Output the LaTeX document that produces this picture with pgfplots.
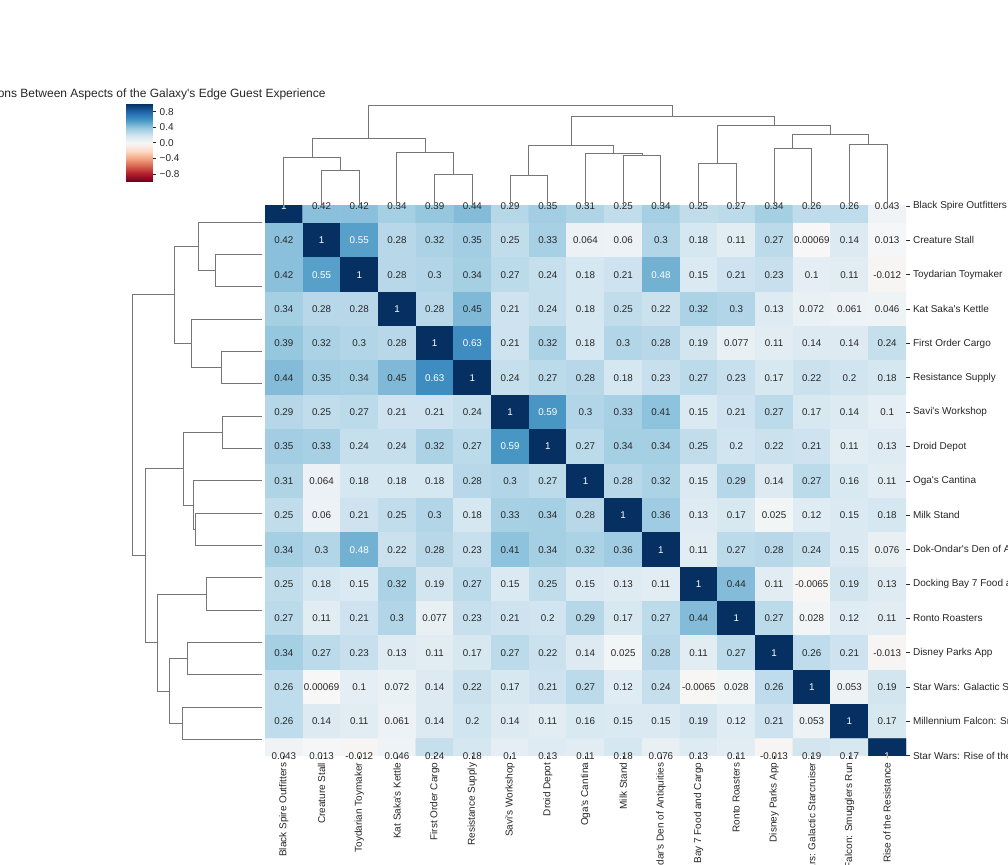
\documentclass[border=0pt]{standalone}
\usepackage{fontspec}
\setmainfont{Liberation Sans}[Ligatures=TeXOff]
\usepackage{pgfplots}
\usepackage{pgfplotstable}
\pgfplotsset{compat=1.18}

\definecolor{txt}{RGB}{38,38,38}
\definecolor{dendro}{RGB}{118,118,118}
\pgfplotsset{colormap={rdbu}{rgb255=(103,0,31) rgb255=(178,24,43) rgb255=(214,96,77)
  rgb255=(244,165,130) rgb255=(253,219,199) rgb255=(247,247,247) rgb255=(209,229,240)
  rgb255=(146,197,222) rgb255=(67,147,195) rgb255=(33,102,172) rgb255=(5,48,97)}}

% correlation matrix, long format: column, row, value
\pgfplotstableread[row sep=\\]{
c r v\\
0 0 1\\ 1 0 0.42\\ 2 0 0.42\\ 3 0 0.34\\ 4 0 0.39\\ 5 0 0.44\\ 6 0 0.29\\ 7 0 0.35\\ 8 0 0.31\\ 9 0 0.25\\ 10 0 0.34\\ 11 0 0.25\\ 12 0 0.27\\ 13 0 0.34\\ 14 0 0.26\\ 15 0 0.26\\ 16 0 0.043\\
0 1 0.42\\ 1 1 1\\ 2 1 0.55\\ 3 1 0.28\\ 4 1 0.32\\ 5 1 0.35\\ 6 1 0.25\\ 7 1 0.33\\ 8 1 0.064\\ 9 1 0.06\\ 10 1 0.3\\ 11 1 0.18\\ 12 1 0.11\\ 13 1 0.27\\ 14 1 0.00069\\ 15 1 0.14\\ 16 1 0.013\\
0 2 0.42\\ 1 2 0.55\\ 2 2 1\\ 3 2 0.28\\ 4 2 0.3\\ 5 2 0.34\\ 6 2 0.27\\ 7 2 0.24\\ 8 2 0.18\\ 9 2 0.21\\ 10 2 0.48\\ 11 2 0.15\\ 12 2 0.21\\ 13 2 0.23\\ 14 2 0.1\\ 15 2 0.11\\ 16 2 -0.012\\
0 3 0.34\\ 1 3 0.28\\ 2 3 0.28\\ 3 3 1\\ 4 3 0.28\\ 5 3 0.45\\ 6 3 0.21\\ 7 3 0.24\\ 8 3 0.18\\ 9 3 0.25\\ 10 3 0.22\\ 11 3 0.32\\ 12 3 0.3\\ 13 3 0.13\\ 14 3 0.072\\ 15 3 0.061\\ 16 3 0.046\\
0 4 0.39\\ 1 4 0.32\\ 2 4 0.3\\ 3 4 0.28\\ 4 4 1\\ 5 4 0.63\\ 6 4 0.21\\ 7 4 0.32\\ 8 4 0.18\\ 9 4 0.3\\ 10 4 0.28\\ 11 4 0.19\\ 12 4 0.077\\ 13 4 0.11\\ 14 4 0.14\\ 15 4 0.14\\ 16 4 0.24\\
0 5 0.44\\ 1 5 0.35\\ 2 5 0.34\\ 3 5 0.45\\ 4 5 0.63\\ 5 5 1\\ 6 5 0.24\\ 7 5 0.27\\ 8 5 0.28\\ 9 5 0.18\\ 10 5 0.23\\ 11 5 0.27\\ 12 5 0.23\\ 13 5 0.17\\ 14 5 0.22\\ 15 5 0.2\\ 16 5 0.18\\
0 6 0.29\\ 1 6 0.25\\ 2 6 0.27\\ 3 6 0.21\\ 4 6 0.21\\ 5 6 0.24\\ 6 6 1\\ 7 6 0.59\\ 8 6 0.3\\ 9 6 0.33\\ 10 6 0.41\\ 11 6 0.15\\ 12 6 0.21\\ 13 6 0.27\\ 14 6 0.17\\ 15 6 0.14\\ 16 6 0.1\\
0 7 0.35\\ 1 7 0.33\\ 2 7 0.24\\ 3 7 0.24\\ 4 7 0.32\\ 5 7 0.27\\ 6 7 0.59\\ 7 7 1\\ 8 7 0.27\\ 9 7 0.34\\ 10 7 0.34\\ 11 7 0.25\\ 12 7 0.2\\ 13 7 0.22\\ 14 7 0.21\\ 15 7 0.11\\ 16 7 0.13\\
0 8 0.31\\ 1 8 0.064\\ 2 8 0.18\\ 3 8 0.18\\ 4 8 0.18\\ 5 8 0.28\\ 6 8 0.3\\ 7 8 0.27\\ 8 8 1\\ 9 8 0.28\\ 10 8 0.32\\ 11 8 0.15\\ 12 8 0.29\\ 13 8 0.14\\ 14 8 0.27\\ 15 8 0.16\\ 16 8 0.11\\
0 9 0.25\\ 1 9 0.06\\ 2 9 0.21\\ 3 9 0.25\\ 4 9 0.3\\ 5 9 0.18\\ 6 9 0.33\\ 7 9 0.34\\ 8 9 0.28\\ 9 9 1\\ 10 9 0.36\\ 11 9 0.13\\ 12 9 0.17\\ 13 9 0.025\\ 14 9 0.12\\ 15 9 0.15\\ 16 9 0.18\\
0 10 0.34\\ 1 10 0.3\\ 2 10 0.48\\ 3 10 0.22\\ 4 10 0.28\\ 5 10 0.23\\ 6 10 0.41\\ 7 10 0.34\\ 8 10 0.32\\ 9 10 0.36\\ 10 10 1\\ 11 10 0.11\\ 12 10 0.27\\ 13 10 0.28\\ 14 10 0.24\\ 15 10 0.15\\ 16 10 0.076\\
0 11 0.25\\ 1 11 0.18\\ 2 11 0.15\\ 3 11 0.32\\ 4 11 0.19\\ 5 11 0.27\\ 6 11 0.15\\ 7 11 0.25\\ 8 11 0.15\\ 9 11 0.13\\ 10 11 0.11\\ 11 11 1\\ 12 11 0.44\\ 13 11 0.11\\ 14 11 -0.0065\\ 15 11 0.19\\ 16 11 0.13\\
0 12 0.27\\ 1 12 0.11\\ 2 12 0.21\\ 3 12 0.3\\ 4 12 0.077\\ 5 12 0.23\\ 6 12 0.21\\ 7 12 0.2\\ 8 12 0.29\\ 9 12 0.17\\ 10 12 0.27\\ 11 12 0.44\\ 12 12 1\\ 13 12 0.27\\ 14 12 0.028\\ 15 12 0.12\\ 16 12 0.11\\
0 13 0.34\\ 1 13 0.27\\ 2 13 0.23\\ 3 13 0.13\\ 4 13 0.11\\ 5 13 0.17\\ 6 13 0.27\\ 7 13 0.22\\ 8 13 0.14\\ 9 13 0.025\\ 10 13 0.28\\ 11 13 0.11\\ 12 13 0.27\\ 13 13 1\\ 14 13 0.26\\ 15 13 0.21\\ 16 13 -0.013\\
0 14 0.26\\ 1 14 0.00069\\ 2 14 0.1\\ 3 14 0.072\\ 4 14 0.14\\ 5 14 0.22\\ 6 14 0.17\\ 7 14 0.21\\ 8 14 0.27\\ 9 14 0.12\\ 10 14 0.24\\ 11 14 -0.0065\\ 12 14 0.028\\ 13 14 0.26\\ 14 14 1\\ 15 14 0.053\\ 16 14 0.19\\
0 15 0.26\\ 1 15 0.14\\ 2 15 0.11\\ 3 15 0.061\\ 4 15 0.14\\ 5 15 0.2\\ 6 15 0.14\\ 7 15 0.11\\ 8 15 0.16\\ 9 15 0.15\\ 10 15 0.15\\ 11 15 0.19\\ 12 15 0.12\\ 13 15 0.21\\ 14 15 0.053\\ 15 15 1\\ 16 15 0.17\\
0 16 0.043\\ 1 16 0.013\\ 2 16 -0.012\\ 3 16 0.046\\ 4 16 0.24\\ 5 16 0.18\\ 6 16 0.1\\ 7 16 0.13\\ 8 16 0.11\\ 9 16 0.18\\ 10 16 0.076\\ 11 16 0.13\\ 12 16 0.11\\ 13 16 -0.013\\ 14 16 0.19\\ 15 16 0.17\\ 16 16 1\\
}\corr

% dendrogram links: leaf position p, linkage height h (0 = leaves, 1 = root)
\pgfplotstableread{
p h
1 0
1 0.358
2 0.358
2 0
nan nan
0 0
0 0.488
1.5 0.488
1.5 0.358
nan nan
4 0
4 0.314
5 0.314
5 0
nan nan
3 0
3 0.539
4.5 0.539
4.5 0.314
nan nan
0.75 0.488
0.75 0.672
3.75 0.672
3.75 0.539
nan nan
6 0
6 0.304
7 0.304
7 0
nan nan
9 0
9 0.509
10 0.509
10 0
nan nan
8 0
8 0.529
9.5 0.529
9.5 0.509
nan nan
6.5 0.304
6.5 0.601
8.75 0.601
8.75 0.529
nan nan
11 0
11 0.427
12 0.427
12 0
nan nan
13 0
13 0.570
14 0.570
14 0
nan nan
15 0
15 0.611
16 0.611
16 0
nan nan
13.5 0.570
13.5 0.713
15.5 0.713
15.5 0.611
nan nan
11.5 0.427
11.5 0.805
14.5 0.805
14.5 0.713
nan nan
7.625 0.601
7.625 0.898
13 0.898
13 0.805
nan nan
2.25 0.672
2.25 1
10.3125 1
10.3125 0.898
}\dend

\newcommand{\lbls}{Black Spire Outfitters,Creature Stall,Toydarian Toymaker,Kat Saka's Kettle,First Order Cargo,Resistance Supply,Savi's Workshop,Droid Depot,Oga's Cantina,Milk Stand,Dok-Ondar's Den of Antiquities,Docking Bay 7 Food and Cargo,Ronto Roasters,Disney Parks App,Star Wars: Galactic Starcruiser,Millennium Falcon: Smugglers Run,Star Wars: Rise of the Resistance}

\begin{document}
\begin{tikzpicture}
\pgfplotsset{
  dendstyle/.style={draw=dendro, line width=1pt, mark=none, unbounded coords=jump},
  annot/.style={only marks, mark=none, nodes near coords, point meta=explicit symbolic,
    every node near coord/.style={anchor=center, font=\fontsize{9.8}{11}\selectfont, text=#1}},
}

% heatmap
\begin{axis}[
  at={(265pt,658pt)}, anchor=north west,
  scale only axis, width=641pt, height=549.8pt,
  xmin=-0.5, xmax=16.5, ymin=0, ymax=16, y dir=reverse,
  enlargelimits=false,
  axis line style={draw=none},
  xtick={0,...,16}, ytick={0,...,16},
  xticklabels/.expanded=\lbls, yticklabels/.expanded=\lbls,
  xtick pos=bottom, ytick pos=right, yticklabel pos=right,
  tick align=outside, major tick length=3.5pt,
  tick style={draw=txt, line width=0.8pt},
  xticklabel style={rotate=90, anchor=east, font=\fontsize{10}{12}\selectfont, text=txt},
  yticklabel style={anchor=west, font=\fontsize{10}{12}\selectfont, text=txt},
  colormap name=rdbu, point meta min=-1, point meta max=1,
]
\addplot[matrix plot*, mesh/cols=17, point meta=explicit] table[x=c, y=r, meta=v] {\corr};
\addplot[annot=txt, x filter/.expression={\thisrow{v}>0.46 ? nan : x}] table[x=c, y=r, meta=v] {\corr};
\addplot[annot=white, x filter/.expression={\thisrow{v}>0.46 ? x : nan}] table[x=c, y=r, meta=v] {\corr};
\end{axis}

% colour scale
\begin{axis}[
  at={(126pt,760pt)}, anchor=north west,
  scale only axis, width=26.7pt, height=77.7pt,
  xmin=0, xmax=1, ymin=-1, ymax=1, enlargelimits=false,
  axis line style={draw=none}, xtick=\empty,
  ytick={-0.8,-0.4,0,0.4,0.8},
  yticklabels={−0.8,−0.4,0.0,0.4,0.8},
  ytick pos=right, yticklabel pos=right,
  tick align=outside, major tick length=3.5pt,
  ytick style={draw=txt, line width=0.8pt},
  yticklabel style={font=\fontsize{10}{12}\selectfont, text=txt},
  colormap name=rdbu, point meta min=-1, point meta max=1,
]
\addplot[patch, patch type=rectangle, shader=interp, point meta=y]
  coordinates {(0,-1) (1,-1) (1,1) (0,1)};
\end{axis}

% column dendrogram
\begin{axis}[
  at={(265pt,658pt)}, anchor=south west,
  scale only axis, width=641pt, height=100pt,
  xmin=-0.5, xmax=16.5, ymin=0, ymax=1, hide axis, clip=false,
]
\addplot[dendstyle] table[x=p, y=h] {\dend};
\end{axis}

% row dendrogram
\begin{axis}[
  at={(262pt,658pt)}, anchor=north east,
  scale only axis, width=130pt, height=549.8pt,
  xmin=0, xmax=1, x dir=reverse, ymin=-0.5, ymax=16.5, y dir=reverse,
  hide axis, clip=false,
]
\addplot[dendstyle] table[x=h, y=p] {\dend};
\end{axis}

\node[anchor=base, font=\fontsize{12}{14}\selectfont, text=txt] at (139pt,766pt)
  {Correlations Between Aspects of the Galaxy's Edge Guest Experience};

\pgfresetboundingbox
\path[use as bounding box] (0,0) rectangle (1008pt,864pt);
\end{tikzpicture}
\end{document}
